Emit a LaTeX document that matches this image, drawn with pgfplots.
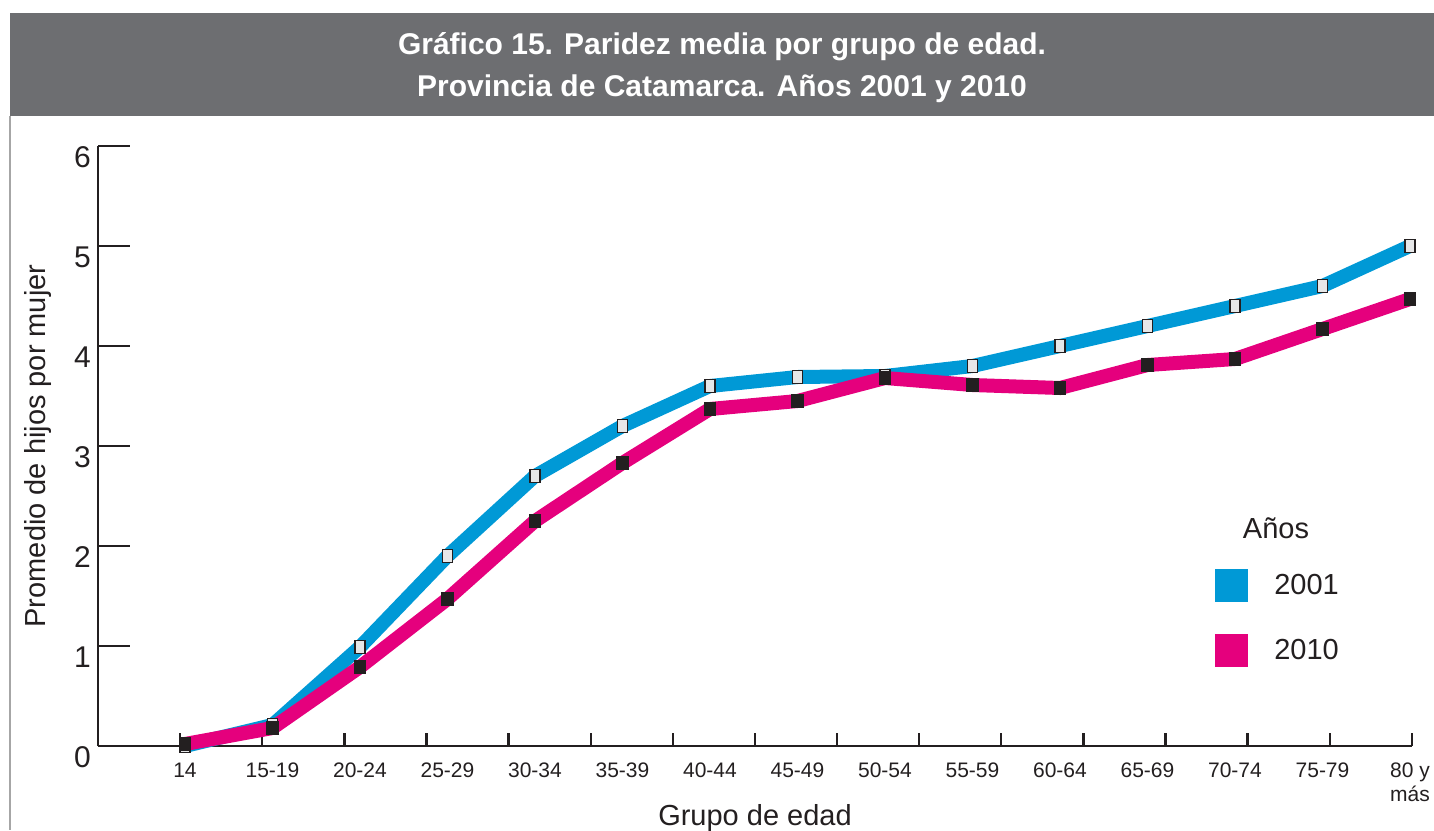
\documentclass[border=0pt]{standalone}
\usepackage{pgfplots}
\pgfplotsset{compat=1.18}
\usepackage{fontspec}
\setmainfont{Liberation Sans}
\definecolor{cblue}{HTML}{0099D6}
\definecolor{cpink}{HTML}{E5007D}
\definecolor{cdark}{HTML}{231F20}
\definecolor{cgray}{HTML}{6D6E71}
\definecolor{cmark}{HTML}{E6E7E8}
\begin{document}
\begin{tikzpicture}
\path[use as bounding box] (0,0) rectangle (717pt,-415pt);
\begin{scope}[x=0.5pt,y=-0.5pt]
\fill[cgray] (10,13) rectangle (1434,116);
\draw[color=black!35, line width=0.8pt] (10,116) -- (10,830);
\node[text=white, font=\fontsize{15}{21}\selectfont\bfseries, align=center] at (722,68)
  {Gráfico 15. Paridez media por grupo de edad.\\Provincia de Catamarca. Años 2001 y 2010};
\node[font=\fontsize{14.5}{17}\selectfont, text=cdark] at (1276,528) {Años};
\end{scope}
\begin{axis}[
  at={(49pt,-373pt)}, anchor=south west,
  scale only axis, width=657pt, height=300pt,
  xmin=-0.994, xmax=14.023, ymin=0, ymax=6,
  axis x line=bottom, axis y line=left,
  axis line style={-, line width=1.4pt, cdark},
  tick align=inside,
  clip=false,
  /pgf/number format/assume math mode=true,
  ytick={0,1,2,3,4,5,6},
  major tick length=16pt,
  minor tick length=6.5pt,
  tick style={line width=1.2pt, cdark},
  yticklabel style={font=\fontsize{15}{17}\selectfont, text=cdark, yshift=-5.5pt},
  xtick={0,1,2,3,4,5,6,7,8,9,10,11,12,13,14},
  xticklabels={14,15-19,20-24,25-29,30-34,35-39,40-44,45-49,50-54,55-59,60-64,65-69,70-74,75-79,{80 y\\más}},
  major x tick style={draw=none},
  minor xtick={-0.057,0.881,1.821,2.759,3.697,4.637,5.575,6.513,7.451,8.391,9.329,10.267,11.207,12.145,13.083,14.023},
  xticklabel style={font=\fontsize{10.5}{12}\selectfont, text=cdark, align=center, yshift=-5pt},
  xlabel={Grupo de edad},
  ylabel={Promedio de hijos por mujer},
  xlabel style={at={(axis description cs:0.5,-0.12)}, anchor=center, font=\fontsize{14.5}{17}\selectfont, text=cdark},
  ylabel style={at={(axis description cs:-0.0457,0.5)}, anchor=center, font=\fontsize{14.5}{17}\selectfont, text=cdark},
  legend image code/.code={\path[#1, draw=none, fill] (0pt,-8.25pt) rectangle (16.5pt,8.25pt);},
  legend style={at={(rel axis cs:0.85,0.295)}, anchor=north west, draw=none, fill=none,
    font=\fontsize{14.5}{17}\selectfont, text=cdark, inner sep=0pt, row sep=16pt, column sep=11pt},
]
\addplot[cblue, line width=7pt, mark=square*, mark size=3.25pt,
  mark options={fill=cmark, draw=cdark, line width=0.6pt, xscale=0.77}]
  coordinates {(0,0.00) (1,0.21) (2,0.99) (3,1.90) (4,2.70) (5,3.20) (6,3.60) (7,3.69) (8,3.70) (9,3.80) (10,4.00) (11,4.20) (12,4.40) (13,4.60) (14,5.00)};
\addplot[cpink, line width=7pt, mark=square*, mark size=3.25pt,
  mark options={fill=cdark, draw=cdark, line width=0.6pt, xscale=0.85}]
  coordinates {(0,0.02) (1,0.18) (2,0.79) (3,1.47) (4,2.25) (5,2.83) (6,3.37) (7,3.45) (8,3.68) (9,3.61) (10,3.58) (11,3.81) (12,3.87) (13,4.17) (14,4.47)};
\legend{2001,2010}
\end{axis}
\end{tikzpicture}
\end{document}
